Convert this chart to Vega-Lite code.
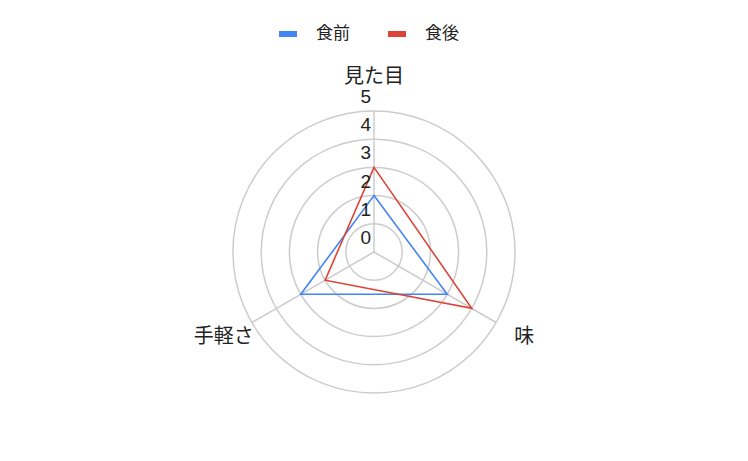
{
  "$schema": "https://vega.github.io/schema/vega-lite/v6.json",
  "width": 748,
  "height": 418,
  "autosize": "none",
  "padding": {"top": 43, "left": 0, "right": 0, "bottom": 0},
  "background": "white",
  "config": {
    "view": {"stroke": null},
    "font": "Liberation Sans, Noto Sans CJK JP",
    "legend": {
      "orient": "none",
      "direction": "horizontal",
      "legendX": 276,
      "legendY": -21,
      "padding": 0,
      "title": null,
      "labelFontSize": 17,
      "labelColor": "#222222",
      "labelFont": "Noto Sans CJK JP",
      "symbolType": "M-1,0H1",
      "symbolSize": 324,
      "symbolStrokeWidth": 6,
      "labelOffset": 16,
      "columnPadding": 26
    }
  },
  "datasets": {
    "scores": [
      {"series": "食前", "axis": "見た目", "idx": 0, "value": 2},
      {"series": "食前", "axis": "味", "idx": 1, "value": 3},
      {"series": "食前", "axis": "手軽さ", "idx": 2, "value": 3},
      {"series": "食後", "axis": "見た目", "idx": 0, "value": 3},
      {"series": "食後", "axis": "味", "idx": 1, "value": 4},
      {"series": "食後", "axis": "手軽さ", "idx": 2, "value": 2}
    ],
    "axes": [
      {"axis": "見た目", "idx": 0},
      {"axis": "味", "idx": 1},
      {"axis": "手軽さ", "idx": 2}
    ],
    "ticks": [
      {"tick": 0}, {"tick": 1}, {"tick": 2}, {"tick": 3}, {"tick": 4}, {"tick": 5}
    ]
  },
  "layer": [
    {
      "data": {"name": "ticks"},
      "transform": [{"filter": "datum.tick > 0"}],
      "mark": {"type": "arc", "filled": false, "stroke": "#cccccc", "strokeWidth": 1.5, "theta": 0, "theta2": 6.2832},
      "encoding": {
        "radius": {"field": "tick", "type": "quantitative", "stack": null, "scale": {"type": "linear", "domain": [0, 5], "range": [0, 141], "zero": true}}
      }
    },
    {
      "data": {"name": "axes"},
      "transform": [
        {"calculate": "PI / 2 - datum.idx * 2 * PI / 3", "as": "a"},
        {"calculate": "5 * cos(datum.a)", "as": "ex"},
        {"calculate": "5 * sin(datum.a)", "as": "ey"}
      ],
      "mark": {"type": "rule", "stroke": "#cccccc", "strokeWidth": 1.5},
      "encoding": {
        "x": {"field": "ex", "type": "quantitative", "scale": {"domain": [-13.262, 13.262]}, "axis": null},
        "x2": {"datum": 0},
        "y": {"field": "ey", "type": "quantitative", "scale": {"domain": [-7.411, 7.411]}, "axis": null},
        "y2": {"datum": 0}
      }
    },
    {
      "data": {"name": "scores"},
      "transform": [
        {"calculate": "PI / 2 - datum.idx * 2 * PI / 3", "as": "a"},
        {"calculate": "datum.value * cos(datum.a)", "as": "px"},
        {"calculate": "datum.value * sin(datum.a)", "as": "py"}
      ],
      "mark": {"type": "line", "interpolate": "linear-closed", "strokeWidth": 1.6},
      "encoding": {
        "x": {"field": "px", "type": "quantitative", "scale": {"domain": [-13.262, 13.262]}, "axis": null},
        "y": {"field": "py", "type": "quantitative", "scale": {"domain": [-7.411, 7.411]}, "axis": null},
        "order": {"field": "idx"},
        "color": {
          "field": "series",
          "type": "nominal",
          "sort": ["食前", "食後"],
          "scale": {"domain": ["食前", "食後"], "range": ["#4285f4", "#db4437"]}
        }
      }
    },
    {
      "data": {"name": "axes"},
      "transform": [
        {"calculate": "PI / 2 - datum.idx * 2 * PI / 3", "as": "a"},
        {"calculate": "6.15 * cos(datum.a)", "as": "lx"},
        {"calculate": "6.15 * sin(datum.a)", "as": "ly"}
      ],
      "mark": {"type": "text", "fontSize": 20, "color": "#222222", "font": "Noto Sans CJK JP", "baseline": "middle", "align": "center", "dy": -2},
      "encoding": {
        "x": {"field": "lx", "type": "quantitative", "scale": {"domain": [-13.262, 13.262]}, "axis": null},
        "y": {"field": "ly", "type": "quantitative", "scale": {"domain": [-7.411, 7.411]}, "axis": null},
        "text": {"field": "axis"}
      }
    },
    {
      "data": {"name": "ticks"},
      "mark": {"type": "text", "fontSize": 19, "color": "#222222", "align": "right", "baseline": "middle", "dx": -3, "dy": -14},
      "encoding": {
        "x": {"datum": 0, "type": "quantitative", "scale": {"domain": [-13.262, 13.262]}, "axis": null},
        "y": {"field": "tick", "type": "quantitative", "scale": {"domain": [-7.411, 7.411]}, "axis": null},
        "text": {"field": "tick"}
      }
    }
  ]
}
